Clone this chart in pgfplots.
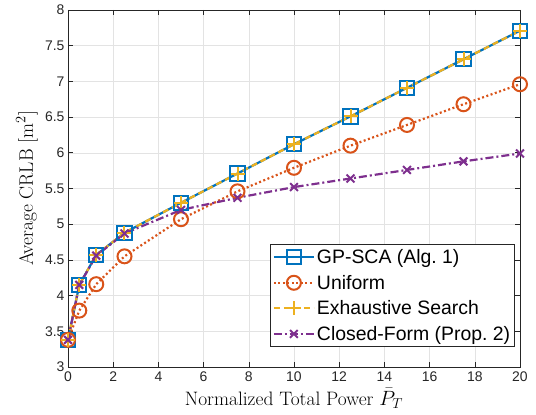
\documentclass[border=0pt]{standalone}
\usepackage{fontspec}
\usepackage{pgfplots}
\pgfplotsset{compat=1.18}
\newfontfamily\arial{Liberation Sans}
\definecolor{mblue}{rgb}{0,0.447,0.741}
\definecolor{morange}{rgb}{0.850,0.325,0.098}
\definecolor{myellow}{rgb}{0.929,0.694,0.125}
\definecolor{mpurple}{rgb}{0.494,0.184,0.556}
\definecolor{axgray}{rgb}{0.15,0.15,0.15}

\begin{document}
\begin{tikzpicture}
\useasboundingbox (-68bp,-48bp) rectangle (468bp,367bp);
\begin{axis}[
    at={(0,0)}, anchor=south west,
    scale only axis,
    width=452bp, height=357bp,
    xmin=0, xmax=20, ymin=3, ymax=8,
    xtick={0,2,...,20},
    ytick={3,3.5,...,8},
    grid=major,
    grid style={gray!22, line width=0.5bp},
    tick align=inside,
    major tick length=5bp,
    axis line style={axgray, line width=0.6bp},
    every tick/.style={axgray, line width=0.6bp},
    /pgf/number format/assume math mode=true,
    tick label style={font=\arial\fontsize{14}{16}\selectfont, text=axgray},
    xticklabel style={inner ysep=1bp, yshift=-3.5bp},
    xlabel={Normalized Total Power $\bar{P}_T$},
    ylabel={Average CRLB [m$^2$]},
    label style={font=\fontsize{19.5}{22}\selectfont},
    xlabel style={at={(0.5,0)}, anchor=base, yshift=-38bp},
    ylabel style={at={(0,0.5)}, anchor=center, rotate=0, yshift=41bp},
    legend cell align=left,
    legend style={at={(0.989,0.056)}, anchor=south east,
        font=\arial\fontsize{19.5}{22}\selectfont,
        draw=axgray, line width=0.6bp,
        row sep=8bp, inner xsep=2.5bp, inner ysep=4bp,
        nodes={inner xsep=2bp, inner ysep=1bp}},
    legend image code/.code={
        \draw[mark repeat=2, mark phase=2] plot coordinates {(0bp,0bp) (20bp,0bp) (40bp,0bp)};
    },
]
\addplot[mblue, line width=2.2bp, mark=square, mark size=7.2bp, mark options={solid, line width=2bp}]
coordinates {(0,3.38) (0.5,4.15) (1.25,4.57) (2.5,4.88) (5,5.30) (7.5,5.71) (10,6.12) (12.5,6.51) (15,6.91) (17.5,7.31) (20,7.71)};
\addlegendentry{GP-SCA (Alg.\ 1)}
\addplot[morange, line width=2.2bp, dash pattern=on 2bp off 2.5bp, mark=o, mark size=7bp, mark options={solid, line width=2bp}]
coordinates {(0,3.38) (0.5,3.79) (1.25,4.16) (2.5,4.55) (5,5.07) (7.5,5.46) (10,5.79) (12.5,6.10) (15,6.39) (17.5,6.68) (20,6.96)};
\addlegendentry{Uniform}
\addplot[myellow, line width=2.2bp, dash pattern=on 6bp off 4bp, mark=+, mark size=7bp, mark options={solid, line width=2bp}]
coordinates {(0,3.38) (0.5,4.15) (1.25,4.57) (2.5,4.88) (5,5.30) (7.5,5.71) (10,6.12) (12.5,6.51) (15,6.91) (17.5,7.31) (20,7.71)};
\addlegendentry{Exhaustive Search}
\addplot[mpurple, line width=2.2bp, dash pattern=on 8bp off 3bp on 2bp off 3bp, mark=x, mark size=5.5bp, mark options={solid, line width=2bp}]
coordinates {(0,3.38) (0.5,4.15) (1.25,4.56) (2.5,4.87) (5,5.20) (7.5,5.37) (10,5.52) (12.5,5.64) (15,5.76) (17.5,5.88) (20,5.99)};
\addlegendentry{Closed-Form (Prop.\ 2)}
\end{axis}
\end{tikzpicture}
\end{document}
